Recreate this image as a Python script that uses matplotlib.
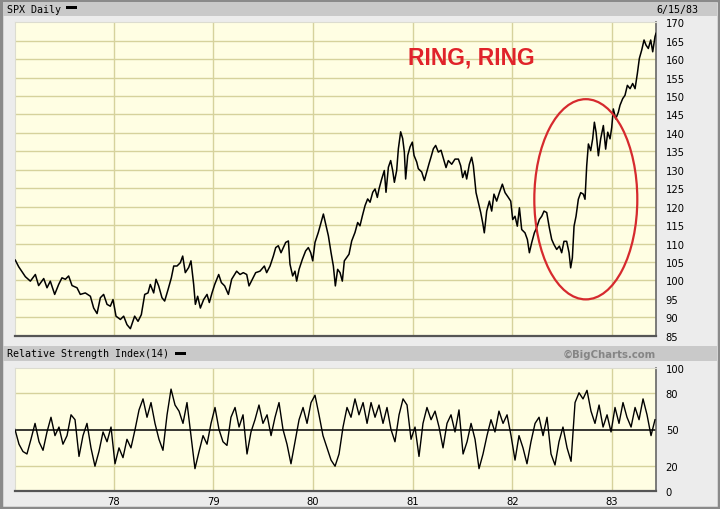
import matplotlib
matplotlib.use('Agg')
import matplotlib.pyplot as plt
from matplotlib.patches import Ellipse, Rectangle

# ---------------- data ----------------
price_t = [1977.015, 1977.049, 1977.116, 1977.166, 1977.216, 1977.249, 1977.300, 1977.333, 1977.366, 1977.410,
           1977.450, 1977.483, 1977.517, 1977.550, 1977.584, 1977.634, 1977.667, 1977.717, 1977.768, 1977.801,
           1977.835, 1977.868, 1977.901, 1977.935, 1977.968, 1977.995, 1978.025, 1978.069, 1978.102, 1978.135,
           1978.169, 1978.212, 1978.246, 1978.279, 1978.313, 1978.346, 1978.369, 1978.403, 1978.426, 1978.453,
           1978.486, 1978.513, 1978.547, 1978.580, 1978.604, 1978.637, 1978.670, 1978.694, 1978.720, 1978.754,
           1978.777, 1978.804, 1978.821, 1978.844, 1978.871, 1978.904, 1978.938, 1978.961, 1978.988, 1979.015,
           1979.055, 1979.082, 1979.115,
           1979.152, 1979.185, 1979.235, 1979.269, 1979.302, 1979.336, 1979.359, 1979.392, 1979.426, 1979.469,
           1979.513, 1979.536, 1979.570, 1979.603, 1979.627, 1979.653, 1979.680, 1979.703, 1979.727, 1979.754,
           1979.770, 1979.797, 1979.820, 1979.837, 1979.861, 1979.894, 1979.927, 1979.954, 1979.978, 1979.998,
           1980.021, 1980.054, 1980.081, 1980.105, 1980.128, 1980.155, 1980.182, 1980.205, 1980.225, 1980.248,
           1980.272, 1980.295, 1980.315, 1980.339, 1980.362, 1980.389, 1980.422, 1980.449, 1980.472, 1980.496,
           1980.523, 1980.549, 1980.573, 1980.600, 1980.623, 1980.646, 1980.663, 1980.690, 1980.716, 1980.733,
           1980.757, 1980.780, 1980.800, 1980.817, 1980.840, 1980.857, 1980.880, 1980.900, 1980.917, 1980.930,
           1980.951, 1980.974, 1980.997, 1981.014, 1981.041, 1981.057, 1981.091, 1981.118, 1981.141, 1981.164,
           1981.185, 1981.208, 1981.231, 1981.258, 1981.285,
           1981.335, 1981.358, 1981.392, 1981.425, 1981.459, 1981.482, 1981.502, 1981.526, 1981.542, 1981.569,
           1981.592, 1981.609, 1981.636, 1981.659, 1981.683, 1981.703, 1981.719, 1981.743, 1981.770, 1981.793,
           1981.816, 1981.843, 1981.870, 1981.900, 1981.927, 1981.960, 1981.984, 1982.004, 1982.027, 1982.050,
           1982.071, 1982.094, 1982.127, 1982.151, 1982.171, 1982.194, 1982.221, 1982.244, 1982.271, 1982.295,
           1982.318, 1982.345, 1982.371, 1982.395, 1982.418, 1982.445, 1982.472, 1982.495, 1982.518, 1982.545,
           1982.569, 1982.585, 1982.602, 1982.619, 1982.639, 1982.662, 1982.686, 1982.712, 1982.729, 1982.746,
           1982.763, 1982.786, 1982.806, 1982.823, 1982.840, 1982.863, 1982.886, 1982.913, 1982.936, 1982.957,
           1982.980, 1982.997, 1983.013, 1983.037, 1983.063, 1983.080, 1983.107, 1983.130, 1983.154, 1983.181,
           1983.207, 1983.231, 1983.254, 1983.274, 1983.298, 1983.321, 1983.341, 1983.364, 1983.388, 1983.408,
           1983.431, 1983.441]
price_v = [105.5, 103.7, 101.0, 99.8, 101.6, 98.6, 100.5, 98.0, 99.8, 96.2,
           98.9, 100.7, 100.3, 101.2, 98.6, 98.0, 96.2, 96.6, 95.7, 92.5,
           91.0, 95.3, 96.2, 93.5, 93.0, 94.8, 90.3, 89.4, 90.3, 88.0,
           86.9, 90.3, 88.9, 90.7, 96.2, 96.6, 98.9, 96.6, 100.3, 98.5,
           95.3, 94.4, 97.5, 100.7, 103.9, 103.9, 104.8, 106.6, 102.1, 103.5,
           105.3, 98.9, 93.5, 95.7, 92.5, 94.8, 96.2, 94.0, 96.6, 98.9,
           101.6, 99.4, 98.5,
           96.2, 100.3, 102.5, 101.6, 102.1, 101.6, 98.5, 100.3, 102.1, 102.5,
           103.9, 102.1, 103.9, 106.6, 108.9, 109.4, 107.5, 108.9, 110.3, 110.7,
           104.4, 101.2, 102.5, 99.8, 103.0, 105.7, 108.0, 108.9, 107.5, 105.3,
           110.3, 113.0, 115.7, 118.0, 115.3, 112.1, 107.5, 103.9, 98.5, 103.0,
           102.1, 99.8, 105.3, 106.2, 107.1, 110.7, 113.0, 115.7, 114.8, 117.5,
           120.3, 122.1, 121.2, 123.9, 124.8, 122.5, 124.8, 127.5, 129.8, 123.9,
           130.7, 132.5, 129.8, 126.6, 129.8, 135.7, 140.3, 138.5, 134.8, 127.5,
           133.9, 136.2, 137.5, 133.9, 132.1, 130.3, 129.4, 127.1, 129.4, 131.6,
           133.5, 135.7, 136.6, 134.8, 135.3,
           130.6, 132.5, 131.5, 132.9, 132.9, 131.1, 127.9, 129.7, 127.5, 131.5,
           133.4, 131.1, 123.8, 121.1, 118.4, 115.6, 112.9, 118.8, 121.5, 118.8,
           123.4, 121.5, 123.8, 126.1, 123.8, 122.5, 121.5, 116.5, 117.4, 114.7,
           119.7, 113.8, 112.9, 111.1, 107.5, 110.2, 112.9, 114.3, 116.5, 117.4,
           118.8, 118.4, 114.3, 111.1, 109.7, 108.4, 109.3, 107.5, 110.6, 110.6,
           107.5, 103.4, 106.1, 114.7, 117.4, 122.0, 123.8, 123.4, 122.0, 131.1,
           137.0, 135.2, 138.4, 142.9, 140.2, 133.8, 138.4, 142.0, 135.6, 140.2,
           138.4, 141.5, 146.5, 143.8, 145.6, 147.5, 149.3, 150.2, 152.9, 152.0,
           153.4, 152.0, 156.1, 160.2, 162.5, 165.2, 163.8, 162.9, 165.2, 162.0,
           166.1, 167.0]

rsi_t = [1977.012, 1977.052, 1977.092, 1977.132, 1977.172, 1977.213, 1977.253, 1977.293, 1977.333, 1977.373,
         1977.413, 1977.453, 1977.493, 1977.534, 1977.574, 1977.614, 1977.654, 1977.694, 1977.734, 1977.774,
         1977.814, 1977.854, 1977.895, 1977.935, 1977.975, 1978.015, 1978.055, 1978.095, 1978.135, 1978.175,
         1978.216, 1978.256, 1978.296, 1978.336, 1978.376, 1978.416, 1978.456, 1978.496, 1978.537, 1978.577,
         1978.617, 1978.657, 1978.697, 1978.737, 1978.777, 1978.817, 1978.858, 1978.898, 1978.938, 1978.978,
         1979.018, 1979.058, 1979.098, 1979.138, 1979.178, 1979.219, 1979.259, 1979.299, 1979.339, 1979.379,
         1979.419, 1979.459, 1979.499, 1979.540, 1979.580, 1979.620, 1979.660, 1979.700, 1979.740, 1979.780,
         1979.820, 1979.861, 1979.901, 1979.941, 1979.981, 1980.021, 1980.061, 1980.101, 1980.141, 1980.182,
         1980.222, 1980.262, 1980.302, 1980.342, 1980.382, 1980.422, 1980.462, 1980.503, 1980.543, 1980.583,
         1980.623, 1980.663, 1980.703, 1980.743, 1980.783, 1980.823, 1980.864, 1980.904, 1980.944, 1980.984,
         1981.024, 1981.064, 1981.104, 1981.144, 1981.185, 1981.225, 1981.265, 1981.305, 1981.345, 1981.385,
         1981.425, 1981.465, 1981.506, 1981.546, 1981.586, 1981.626, 1981.666, 1981.706, 1981.746, 1981.786,
         1981.826, 1981.866, 1981.907, 1981.947, 1981.987, 1982.027, 1982.067, 1982.107, 1982.147, 1982.187,
         1982.228, 1982.268, 1982.308, 1982.348, 1982.388, 1982.428, 1982.468, 1982.508, 1982.549, 1982.589,
         1982.629, 1982.669, 1982.709, 1982.749, 1982.789, 1982.829, 1982.870, 1982.910, 1982.950, 1982.990,
         1983.030, 1983.070, 1983.110, 1983.150, 1983.191, 1983.231, 1983.271, 1983.311, 1983.351, 1983.391,
         1983.431]
rsi_v = [50, 38, 32, 30, 42, 55, 40, 33, 48, 60,
         45, 52, 38, 45, 62, 58, 28, 45, 55, 35,
         20, 32, 48, 40, 52, 22, 35, 27, 42, 35,
         50, 66, 75, 60, 72, 55, 42, 33, 62, 83,
         70, 65, 55, 72, 45, 18, 32, 45, 38, 55,
         68, 50, 40, 37, 60, 68, 52, 62, 30, 48,
         58, 70, 55, 62, 45, 60, 72, 50, 38, 22,
         40, 58, 68, 55, 72, 78, 62, 45, 35, 25,
         20, 30, 52, 68, 60, 75, 62, 72, 55, 72,
         60, 70, 55, 68, 50, 40, 62, 75, 70, 42,
         52, 28, 55, 68, 58, 65, 52, 35, 55, 62,
         48, 66, 30, 40, 55, 42, 18, 30, 45, 58,
         48, 65, 55, 62, 45, 25, 45, 35, 22, 40,
         55, 60, 45, 60, 30, 21, 40, 52, 35, 24,
         72, 80, 75, 82, 65, 55, 70, 52, 62, 48,
         68, 55, 72, 60, 52, 68, 58, 75, 62, 45,
         58]

year_ticks = [1978, 1979, 1980, 1981, 1982, 1983]
year_labels = ['78', '79', '80', '81', '82', '83']
price_ticks = list(range(85, 171, 5))
rsi_ticks = [0, 20, 50, 80, 100]
x_range = (1977.012, 1983.441)

# ---------------- styling ----------------
FIG_BG = '#ececec'
BAND = '#c9c9c9'
PLOT_BG = '#fffee3'
GRID = '#d6d29c'
W, H = 720, 510

fig = plt.figure(figsize=(7.2, 5.1), dpi=100, facecolor=FIG_BG)

def fx(px):
    return px / W

def fy(py):
    return 1 - py / H

fig.patches.append(Rectangle((0.001, 0.001), 0.998, 0.997, transform=fig.transFigure,
                             fill=False, edgecolor='#8a8a8a', lw=2.5, zorder=0))
fig.patches.append(Rectangle((fx(3), fy(16.7)), fx(714), 13.4 / H, transform=fig.transFigure,
                             facecolor=BAND, edgecolor='none', zorder=1))
fig.patches.append(Rectangle((fx(3), fy(361.7)), fx(714), 15 / H, transform=fig.transFigure,
                             facecolor=BAND, edgecolor='none', zorder=1))

mono = 'DejaVu Sans Mono'
fig.text(fx(7), fy(10), 'SPX Daily', family=mono, fontsize=7.2, va='center', ha='left')
fig.patches.append(Rectangle((fx(66), fy(9.5)), fx(11), 2.2 / H, transform=fig.transFigure,
                             facecolor='black', edgecolor='none', zorder=2))
fig.text(fx(698), fy(10), '6/15/83', family=mono, fontsize=7.2, va='center', ha='right')

fig.text(fx(7), fy(354.5), 'Relative Strength Index(14)', family=mono, fontsize=7.2,
         va='center', ha='left')
fig.patches.append(Rectangle((fx(175), fy(355.5)), fx(11), 2.2 / H, transform=fig.transFigure,
                             facecolor='black', edgecolor='none', zorder=2))
fig.text(fx(656), fy(354.5), '\u00a9BigCharts.com', family='DejaVu Sans', fontweight='bold',
         fontsize=7.3, color='#858585', va='center', ha='right')

# ---------------- price panel ----------------
ax = fig.add_axes([fx(15), fy(336.7), fx(641), 313.4 / H])
ax.set_facecolor(PLOT_BG)
ax.set_xlim(*x_range)
ax.set_ylim(85, 170)
for yv in price_ticks[1:-1]:
    ax.axhline(yv, color=GRID, lw=1, zorder=1)
for xv in year_ticks:
    ax.axvline(xv, color=GRID, lw=1, zorder=1)
ax.plot(price_t, price_v, color='black', lw=1.1, zorder=3)

ax.add_patch(Ellipse((1982.737, 122.0), 1.033, 54.3, fill=False, edgecolor='#d62a2e',
                     lw=1.6, zorder=4))
ax.text(1981.586, 160.6, 'RING, RING', color='#e0232a', fontsize=16.5, fontweight='bold',
        family='Liberation Sans', ha='center', va='center', zorder=5)

ax.yaxis.tick_right()
ax.set_yticks(price_ticks)
ax.set_yticklabels([str(v) for v in price_ticks])
ax.set_xticks([])
ax.tick_params(axis='y', length=0, pad=7, labelsize=7.2, labelcolor='black')
for s in ['left', 'top']:
    ax.spines[s].set_color('#dcdcd0')
    ax.spines[s].set_linewidth(0.8)
ax.spines['right'].set_color('#666666')
ax.spines['right'].set_linewidth(1.2)
ax.spines['bottom'].set_color('#555555')
ax.spines['bottom'].set_linewidth(1.6)

# ---------------- RSI panel ----------------
ax2 = fig.add_axes([fx(15), fy(491.7), fx(641), 122.4 / H])
ax2.set_facecolor(PLOT_BG)
ax2.set_xlim(*x_range)
ax2.set_ylim(0, 100)
for yv in [20, 80]:
    ax2.axhline(yv, color=GRID, lw=1, zorder=1)
for xv in year_ticks:
    ax2.axvline(xv, color=GRID, lw=1, zorder=1)
ax2.axhline(50, color='black', lw=1.1, zorder=2)
ax2.plot(rsi_t, rsi_v, color='black', lw=1.0, zorder=3)

ax2.yaxis.tick_right()
ax2.set_yticks(rsi_ticks)
ax2.set_yticklabels([str(v) for v in rsi_ticks])
ax2.set_xticks(year_ticks)
ax2.set_xticklabels(year_labels)
ax2.tick_params(axis='y', length=0, pad=7, labelsize=7.2)
ax2.tick_params(axis='x', length=0, pad=4, labelsize=7.2)
for s in ['left', 'top']:
    ax2.spines[s].set_color('#dcdcd0')
    ax2.spines[s].set_linewidth(0.8)
ax2.spines['right'].set_color('#666666')
ax2.spines['right'].set_linewidth(1.2)
ax2.spines['bottom'].set_color('#555555')
ax2.spines['bottom'].set_linewidth(1.6)

fig.savefig('out.png', dpi=100, facecolor=fig.get_facecolor())
